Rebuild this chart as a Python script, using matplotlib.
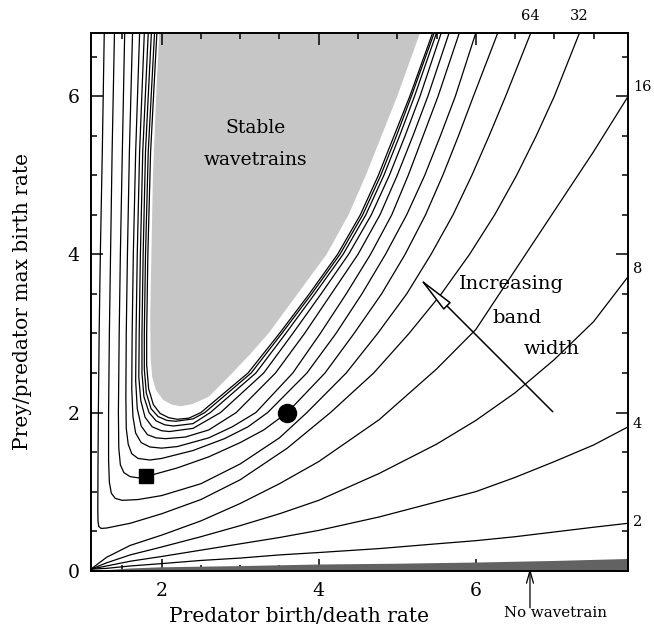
import matplotlib
matplotlib.use("Agg")
import matplotlib.pyplot as plt
from matplotlib.ticker import MultipleLocator

plt.rcParams['font.family'] = ['DejaVu Serif']

# ---------------- data ----------------
x_grid = [1.1, 1.3, 1.6, 2.0, 2.5, 3.0, 3.5, 4.0, 4.77, 5.5, 6.0, 6.5, 7.0, 7.5, 7.94]
c2_y = [0.02, 0.03, 0.06, 0.09, 0.13, 0.16, 0.20, 0.23, 0.28, 0.34, 0.38, 0.43, 0.49, 0.55, 0.60]
c4_y = [0.02, 0.06, 0.12, 0.18, 0.26, 0.34, 0.42, 0.51, 0.68, 0.87, 1.00, 1.18, 1.38, 1.59, 1.82]
c8_y = [0.02, 0.10, 0.20, 0.30, 0.43, 0.57, 0.72, 0.89, 1.23, 1.60, 1.90, 2.25, 2.67, 3.15, 3.72]
c16_y = [0.02, 0.17, 0.32, 0.45, 0.63, 0.85, 1.10, 1.38, 1.91, 2.55, 3.05, 3.80, 4.55, 5.30, 6.00]

u32 = [(1.27, 6.8), (1.245, 5.3), (1.22, 4.0), (1.205, 3.0), (1.195, 2.0), (1.19, 1.3), (1.188, 0.8),
       (1.19, 0.63), (1.2, 0.56), (1.23, 0.535), (1.3, 0.54), (1.6, 0.6), (2.0, 0.72), (2.5, 0.9),
       (3.0, 1.15), (3.6, 1.55), (4.15, 2.0), (4.7, 2.5), (5.15, 3.0), (5.56, 3.5), (5.92, 4.0),
       (6.24, 4.5), (6.52, 5.0), (6.77, 5.5), (7.0, 6.0), (7.32, 6.8)]
u64 = [(1.40, 6.8), (1.37, 5.3), (1.35, 4.0), (1.335, 3.0), (1.325, 2.0), (1.325, 1.4), (1.335, 1.12),
       (1.36, 0.98), (1.41, 0.915), (1.5, 0.89), (1.7, 0.9), (2.0, 0.95), (2.5, 1.1), (3.0, 1.35),
       (3.5, 1.68), (3.85, 2.0), (4.35, 2.5), (4.75, 3.0), (5.12, 3.5), (5.43, 4.0), (5.71, 4.5),
       (5.95, 5.0), (6.17, 5.5), (6.38, 6.0), (6.70, 6.8)]
u128 = [(1.53, 6.8), (1.5, 5.3), (1.475, 4.0), (1.46, 3.0), (1.45, 2.0), (1.455, 1.55), (1.475, 1.34),
        (1.52, 1.24), (1.6, 1.19), (1.7, 1.175), (1.8, 1.19), (2.2, 1.3), (2.6, 1.44), (3.0, 1.62),
        (3.3, 1.78), (3.6, 2.0), (4.08, 2.5), (4.45, 3.0), (4.8, 3.5), (5.1, 4.0), (5.36, 4.5),
        (5.58, 5.0), (5.78, 5.5), (5.97, 6.0), (6.28, 6.8)]
u256 = [(1.63, 6.8), (1.59, 5.3), (1.565, 4.0), (1.55, 3.0), (1.545, 2.2), (1.55, 1.8), (1.575, 1.6),
        (1.62, 1.48), (1.7, 1.42), (1.85, 1.40), (2.0, 1.42), (2.4, 1.52), (2.8, 1.67), (3.1, 1.82),
        (3.35, 2.0), (3.85, 2.5), (4.22, 3.0), (4.55, 3.5), (4.85, 4.0), (5.12, 4.5), (5.35, 5.0),
        (5.55, 5.5), (5.74, 6.0), (6.0, 6.8)]
u512 = [(1.72, 6.8), (1.67, 5.3), (1.64, 4.0), (1.625, 3.0), (1.62, 2.3), (1.635, 1.95), (1.67, 1.74),
        (1.74, 1.62), (1.85, 1.565), (2.0, 1.55), (2.2, 1.57), (2.6, 1.68), (2.9, 1.82), (3.2, 2.0),
        (3.67, 2.5), (4.02, 3.0), (4.35, 3.5), (4.66, 4.0), (4.93, 4.5), (5.14, 5.0), (5.33, 5.5),
        (5.52, 6.0), (5.79, 6.8)]
u1024 = [(1.78, 6.8), (1.72, 5.3), (1.69, 4.0), (1.675, 3.0), (1.67, 2.4), (1.69, 2.05), (1.74, 1.83),
         (1.82, 1.72), (1.93, 1.68), (2.05, 1.67), (2.3, 1.69), (2.6, 1.78), (2.95, 2.0), (3.45, 2.5),
         (3.82, 3.0), (4.16, 3.5), (4.5, 4.0), (4.78, 4.5), (5.0, 5.0), (5.2, 5.5), (5.39, 6.0), (5.66, 6.8)]
u2048 = [(1.83, 6.8), (1.76, 5.3), (1.73, 4.0), (1.715, 3.0), (1.71, 2.45), (1.735, 2.15), (1.79, 1.94),
         (1.88, 1.82), (2.0, 1.77), (2.1, 1.76), (2.4, 1.8), (2.75, 2.0), (3.3, 2.5), (3.67, 3.0),
         (4.03, 3.5), (4.38, 4.0), (4.67, 4.5), (4.9, 5.0), (5.1, 5.5), (5.29, 6.0), (5.56, 6.8)]
u4096 = [(1.87, 6.8), (1.795, 5.3), (1.765, 4.0), (1.75, 3.0), (1.75, 2.5), (1.775, 2.2), (1.84, 2.0),
         (1.93, 1.895), (2.04, 1.845), (2.15, 1.83), (2.4, 1.86), (2.62, 2.0), (3.2, 2.5), (3.58, 3.0),
         (3.95, 3.5), (4.31, 4.0), (4.6, 4.5), (4.83, 5.0), (5.03, 5.5), (5.22, 6.0), (5.50, 6.8)]
u8192 = [(1.91, 6.8), (1.83, 5.3), (1.795, 4.0), (1.78, 3.0), (1.78, 2.55), (1.805, 2.25), (1.865, 2.05),
         (1.955, 1.95), (2.07, 1.9), (2.18, 1.89), (2.4, 1.92), (2.55, 2.0), (3.14, 2.5), (3.53, 3.0),
         (3.91, 3.5), (4.27, 4.0), (4.56, 4.5), (4.79, 5.0), (4.99, 5.5), (5.18, 6.0), (5.47, 6.8)]
u16384 = [(1.94, 6.8), (1.86, 5.3), (1.825, 4.0), (1.81, 3.0), (1.81, 2.6), (1.835, 2.3), (1.895, 2.1),
          (1.98, 1.99), (2.09, 1.935), (2.2, 1.915), (2.35, 1.93), (2.5, 2.0), (3.1, 2.5), (3.5, 3.0),
          (3.88, 3.5), (4.24, 4.0), (4.53, 4.5), (4.76, 5.0), (4.96, 5.5), (5.16, 6.0), (5.45, 6.8)]

stable_region = [(1.97, 6.8), (1.93, 6.0), (1.89, 5.0), (1.87, 4.0), (1.855, 3.2), (1.86, 2.7), (1.88, 2.45),
                 (1.93, 2.28), (2.02, 2.16), (2.13, 2.1), (2.25, 2.08), (2.4, 2.11), (2.6, 2.2), (2.9, 2.5),
                 (3.12, 2.73), (3.36, 3.0), (3.73, 3.5), (4.1, 4.0), (4.38, 4.5), (4.6, 5.0), (4.8, 5.5),
                 (5.0, 6.0), (5.29, 6.8)]

band_x = [1.1, 1.6, 2.0, 3.0, 4.0, 5.0, 6.0, 7.0, 7.94]
band_top = [0.0, 0.035, 0.05, 0.065, 0.085, 0.095, 0.11, 0.13, 0.155]

square_pt = (1.80, 1.20)
circle_pt = (3.60, 2.00)

right_labels = ["2", "4", "8", "16"]
right_label_y = [0.62, 1.85, 3.82, 6.12]
top_labels = ["64", "32"]
top_label_x = [6.70, 7.32]

x_ticks = [2, 4, 6]
y_ticks = [0, 2, 4, 6]

# ---------------- figure ----------------
fig = plt.figure(figsize=(6.54, 6.28), dpi=100)
ax = fig.add_axes([0.139, 0.0912, 0.8215, 0.8563])
ax.set_xlim(1.1, 7.94)
ax.set_ylim(0, 6.8)

# stable region
sx, sy = zip(*stable_region)
ax.fill(list(sx) + [5.29, 1.97], list(sy) + [6.8, 6.8], color='#c6c6c6', lw=0, zorder=1)

# no-wavetrain band
ax.fill_between(band_x, 0, band_top, color='#626262', lw=0, zorder=2)

lw = 0.9
for cy in (c2_y, c4_y, c8_y, c16_y):
    ax.plot(x_grid, cy, color='black', lw=lw, zorder=3)
for cur in (u32, u64, u128, u256, u512, u1024, u2048, u4096, u8192, u16384):
    cx, cyy = zip(*cur)
    ax.plot(cx, cyy, color='black', lw=lw, zorder=3)

ax.plot(*square_pt, marker='s', ms=10.3, color='black', zorder=5)
ax.plot(*circle_pt, marker='o', ms=13, color='black', zorder=5)

# texts
ax.text(3.20, 5.60, "Stable", ha='center', va='center', fontsize=13.5)
ax.text(3.20, 5.19, "wavetrains", ha='center', va='center', fontsize=13.5)
ax.text(6.46, 3.63, "Increasing", ha='center', va='center', fontsize=14)
ax.text(6.53, 3.20, "band", ha='center', va='center', fontsize=14)
ax.text(6.97, 2.80, "width", ha='center', va='center', fontsize=14)

ax.annotate("", xy=(5.28, 3.70), xytext=(6.98, 2.01),
            arrowprops=dict(arrowstyle='-|>,head_length=2.4,head_width=0.32',
                            mutation_scale=10, fc='white', ec='black', lw=1.1,
                            shrinkA=0, shrinkB=0))
ax.annotate("No wavetrain", xy=(6.69, 0.03), xytext=(7.02, -0.53),
            ha='center', va='center', fontsize=10.8, annotation_clip=False)
ax.annotate("", xy=(6.69, 0.03), xytext=(6.69, -0.47), annotation_clip=False,
            arrowprops=dict(arrowstyle='->,head_length=0.9,head_width=0.25',
                            mutation_scale=10, color='black', lw=0.9, shrinkA=0, shrinkB=0))

for lab, yy in zip(right_labels, right_label_y):
    ax.text(8.0, yy, lab, ha='left', va='center', fontsize=10.5)
for lab, xx in zip(top_labels, top_label_x):
    ax.text(xx, 7.01, lab, ha='center', va='center', fontsize=10.5)

# axes styling
ax.set_xticks(x_ticks)
ax.set_yticks(y_ticks)
ax.xaxis.set_minor_locator(MultipleLocator(0.5))
ax.yaxis.set_minor_locator(MultipleLocator(0.5))
ax.tick_params(which='both', direction='in', top=True, right=True, width=1.1, labelsize=13.5)
ax.tick_params(which='major', length=8.5, pad=8)
ax.tick_params(which='minor', length=4.2)
for sp in ax.spines.values():
    sp.set_linewidth(1.4)
    sp.set_zorder(6)

ax.set_xlabel("Predator birth/death rate", fontsize=14.5, va='center')
ax.xaxis.set_label_coords(0.387, -0.086)
ax.set_ylabel("Prey/predator max birth rate", fontsize=14.5, va='center')
ax.yaxis.set_label_coords(-0.128, 0.5)

fig.savefig("out.png", dpi=100)
